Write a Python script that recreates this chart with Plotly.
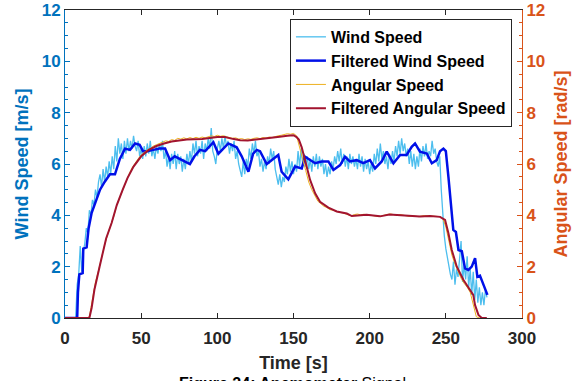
import plotly.graph_objects as go

# ---------------- data ----------------
wind_time = list(range(0, 278))
wind_speed = [
    0, 0, 0, 0, 0, 0, 0, 0, 1.3, 1.7,
    2.8, 1.8, 2.6, 2.9, 3.5, 3.3, 4.2, 4.0, 4.6, 4.4,
    5.0, 4.7, 5.3, 5.6, 5.1, 5.8, 5.3, 5.9, 5.5, 6.1,
    5.6, 6.3, 5.8, 6.7, 6.1, 7.0, 6.4, 6.8, 6.2, 6.9,
    6.4, 7.0, 6.5, 6.9, 6.6, 7.1, 6.7, 6.5, 6.9, 6.3,
    6.6, 6.2, 6.7, 6.3, 6.8, 6.4, 6.9, 6.3, 6.6, 6.2,
    6.7, 6.4, 6.8, 6.5, 6.9, 6.2, 6.5, 5.9, 6.3, 5.8,
    6.4, 6.0, 6.5, 5.8, 6.4, 6.0, 6.3, 5.7, 6.2, 5.8,
    6.4, 6.0, 6.5, 6.1, 6.8, 6.4, 6.9, 6.3, 6.7, 6.4,
    6.9, 6.2, 6.8, 6.5, 7.0, 6.6, 7.4, 6.5, 6.3, 6.0,
    6.6, 6.9, 6.5, 7.0, 6.6, 7.1, 6.7, 6.9, 6.4, 6.8,
    6.5, 6.9, 6.2, 6.5, 6.0, 5.8, 5.5, 6.1, 5.6, 6.2,
    5.9, 6.6, 6.2, 6.8, 6.4, 6.9, 6.3, 6.5, 5.9, 6.2,
    5.7, 6.1, 5.8, 6.3, 6.0, 6.6, 6.2, 6.5, 5.8, 5.5,
    5.2, 5.6, 5.1, 5.5, 5.3, 5.9, 5.6, 6.2, 5.7, 6.1,
    5.6, 6.0, 5.7, 6.5, 5.9, 6.6, 6.0, 6.4, 5.9, 6.3,
    5.8, 6.2, 5.7, 6.3, 5.9, 6.4, 5.8, 6.3, 5.9, 6.2,
    5.6, 6.0, 5.5, 5.9, 5.6, 6.1, 5.8, 6.3, 6.0, 6.5,
    6.1, 6.6, 6.0, 6.4, 5.9, 6.3, 5.8, 6.4, 6.0, 6.3,
    5.9, 6.2, 5.8, 6.4, 5.9, 6.3, 5.7, 6.2, 5.8, 6.1,
    5.6, 6.0, 5.7, 6.4, 6.0, 6.6, 6.1, 6.8, 6.2, 6.5,
    6.0, 6.3, 5.8, 6.4, 6.0, 6.5, 6.1, 6.7, 6.3, 6.9,
    6.4, 7.0, 6.5, 6.8, 6.3, 6.6, 6.0, 6.5, 5.9, 6.4,
    5.8, 6.3, 5.9, 6.6, 6.1, 6.7, 6.3, 6.8, 6.2, 6.5,
    6.3, 6.9, 6.4, 6.6, 6.1, 5.9, 6.3, 5.0, 3.9, 3.2,
    2.7, 2.3, 2.0, 1.7, 1.5, 2.2, 1.3, 1.9, 1.6, 2.3,
    3.0, 1.4, 2.1, 1.5, 2.4, 1.2, 1.9, 0.9, 1.8, 0.7,
    1.5, 0.6, 1.2, 0.5, 1.0, 0.5, 1.1, 0.8,
]

filt_wind_time = [
    0, 8, 8.5, 9.4, 11.6, 12, 14.2, 15.5, 17.5, 20, 23, 26, 29.5, 32.8, 36,
    39.4, 42.7, 46, 49, 51.2, 54, 58, 62, 65.7, 69, 72, 75.5, 79, 82, 85,
    88.6, 92, 97.4, 100.7, 104, 107.2, 112.7, 116, 120.4, 123.5, 125.9, 128,
    132.4, 135.7, 140, 142.2, 146.6, 151, 155.4, 157.6, 160.8, 164.2, 168.5,
    172.9, 176.2, 180.6, 183.8, 187, 191.5, 195.8, 200.2, 203.5, 207.9, 211.2,
    215.6, 220, 224.3, 227.6, 229.8, 233, 237.5, 240.8, 244, 246.2, 248.4,
    250, 251.7, 253.9, 254.9, 256.6, 258.3, 260.5, 262.6, 264.8, 267, 269.2,
    270.7, 272.4, 274.6, 277.3,
]
filt_wind_speed = [
    0, 0, 1.0, 1.7, 1.75, 2.7, 2.75, 3.5, 4.1, 4.5, 5.0, 5.3, 5.6, 5.6, 6.2,
    6.6, 6.55, 6.8, 6.75, 6.5, 6.5, 6.55, 6.6, 6.6, 6.15, 6.3, 6.2, 6.1, 6.0, 6.3,
    6.55, 6.5, 6.85, 6.4, 6.6, 6.8, 6.65, 6.3, 5.7, 6.4, 6.55, 6.5,
    6.0, 6.15, 6.35, 5.7, 5.4, 5.9, 5.83, 6.28, 6.15, 6.03, 6.1,
    6.1, 5.77, 5.96, 6.28, 6.1, 6.15, 6.03, 6.15, 5.83, 6.1, 6.48,
    6.03, 6.35, 6.35, 6.67, 6.8, 6.48, 6.41, 6.03, 6.15, 6.5, 6.6,
    6.5, 5.5, 4.2, 3.43, 3.35, 2.65, 2.6, 1.93, 1.87, 2.0, 2.33,
    1.6, 1.65, 1.28, 0.9,
]

ang_time = list(range(0, 277, 2))
ang_speed = [
    0, 0, 0, 0, 0, 0, 0, 0,
    0.05, 0.75, 1.4, 1.85, 2.4, 2.85, 3.25, 3.6, 3.95, 4.4,
    4.7, 5.05, 5.35, 5.6, 5.85, 6.05, 6.2, 6.35, 6.45, 6.55,
    6.6, 6.7, 6.75, 6.8, 6.85, 6.9, 6.88, 6.95, 6.92, 7.0,
    6.97, 7.02, 6.98, 7.03, 6.99, 7.04, 7.0, 7.05, 7.02, 7.06,
    7.1, 7.07, 7.12, 7.08, 7.1, 7.06, 7.04, 7.0, 7.02, 6.97,
    6.99, 6.95, 6.98, 6.96, 7.0, 7.02, 6.99, 7.03, 7.01, 7.05,
    7.03, 7.08, 7.1, 7.12, 7.15, 7.18, 7.16, 7.19, 7.1, 6.7,
    6.2, 5.75, 5.3, 5.0, 4.75, 4.55, 4.45, 4.35, 4.3, 4.22,
    4.2, 4.15, 4.12, 4.1, 4.06, 4.02, 3.98, 4.03, 4.05, 4.02,
    4.04, 4.03, 4.01, 3.99, 3.97, 3.95, 3.98, 4.02, 4.04, 4.05,
    4.02, 4.0, 4.03, 4.0, 3.97, 3.96, 3.98, 3.96, 3.95, 3.97,
    3.99, 3.98, 3.97, 3.96, 3.97, 3.95, 3.88, 3.55, 3.0, 2.45,
    2.1, 1.8, 1.55, 1.35, 1.2, 1.0, 0.55, 0.05, 0, 0,
    0,
]

filt_ang_time = [
    0, 16, 17.5, 19.3, 22.7, 24.1, 27, 30.6, 34, 37.9, 41, 45, 50, 55, 60, 65,
    70, 80, 90, 100, 105, 110, 115, 120, 128, 135, 141, 146, 150, 152, 153.5,
    155.4, 157.6, 160.9, 164.2, 167.4, 172.9, 178.4, 185, 188.3, 198, 206.8,
    213, 224.3, 233, 239.6, 246.2, 249.5, 251.7, 253.9, 257.2, 261.6, 266,
    268, 269.2, 271.4, 273.6, 276.9,
]
filt_ang_speed = [
    0, 0, 0.4, 1.1, 2.0, 2.4, 3.1, 3.7, 4.4, 5.0, 5.45, 5.9, 6.3, 6.55, 6.7, 6.8,
    6.88, 6.95, 6.97, 7.05, 7.05, 6.98, 6.93, 6.92, 6.97, 7.0, 7.06, 7.1, 7.12, 7.05, 6.95,
    6.65, 6.15, 5.38, 4.86, 4.53, 4.3, 4.15, 4.07, 3.97, 4.02, 3.96,
    4.03, 3.97, 3.95, 3.97, 3.94, 3.82, 3.3, 2.65, 2.0, 1.48, 1.09,
    0.9, 0.5, 0.12, 0, 0,
]

x_ticks = [0, 50, 100, 150, 200, 250, 300]
y_ticks = [0, 2, 4, 6, 8, 10, 12]

series_names = ["Wind Speed", "Filtered Wind Speed", "Angular Speed", "Filtered Angular Speed"]
axis_titles = {"x": "Time [s]", "y": "Wind Speed [m/s]", "y2": "Angular Speed [rad/s]"}
caption = "<b>Figure 24: Anemometer</b> Signal"

# ---------------- styling ----------------
FONT = "Liberation Sans, Arial, sans-serif"
BLUE_AX = "#0072BD"
ORANGE_AX = "#D95319"
DARK = "#262626"

fig = go.Figure()
fig.add_trace(go.Scatter(x=wind_time, y=wind_speed, mode="lines", name=series_names[0],
                         line=dict(color="#4DBEEE", width=1.3), yaxis="y"))
fig.add_trace(go.Scatter(x=filt_wind_time, y=filt_wind_speed, mode="lines", name=series_names[1],
                         line=dict(color="#0010E8", width=2.5), yaxis="y"))
fig.add_trace(go.Scatter(x=ang_time, y=ang_speed, mode="lines", name=series_names[2],
                         line=dict(color="#EDB120", width=1), yaxis="y2"))
fig.add_trace(go.Scatter(x=filt_ang_time, y=filt_ang_speed, mode="lines", name=series_names[3],
                         line=dict(color="#A2142F", width=2), yaxis="y2"))

fig.update_layout(
    width=584, height=381,
    margin=dict(l=65, r=62, t=10, b=63),
    paper_bgcolor="white", plot_bgcolor="white",
    font=dict(family=FONT, size=16, color=DARK),
    showlegend=True,
    legend=dict(x=0.978, xanchor="right", y=0.971, yanchor="top",
                bgcolor="white", bordercolor=DARK, borderwidth=1,
                font=dict(family=FONT, size=16, color="black", weight="bold"),
                itemwidth=30, tracegroupgap=0),
    xaxis=dict(range=[0, 300], tickvals=x_ticks, ticks="inside", ticklen=5,
               tickcolor=DARK, showline=True, linecolor=DARK, linewidth=1,
               mirror="ticks", showgrid=False, zeroline=False, automargin=False,
               ticklabelstandoff=5,
               tickfont=dict(family=FONT, size=17, color=DARK, weight="bold"),
               title=dict(text=axis_titles["x"], standoff=8,
                          font=dict(family=FONT, size=18, color=DARK, weight="bold"))),
    yaxis=dict(range=[0, 12], tickvals=y_ticks, ticks="inside", ticklen=5,
               tickcolor=BLUE_AX, showline=True, linecolor=BLUE_AX, linewidth=1,
               showgrid=False, zeroline=False, automargin=False,
               minor=dict(ticks="inside", ticklen=3, dtick=0.5, tickcolor=BLUE_AX, showgrid=False),
               tickfont=dict(family=FONT, size=17, color=BLUE_AX, weight="bold"),
               title=dict(text=axis_titles["y"], standoff=8,
                          font=dict(family=FONT, size=18, color=BLUE_AX, weight="bold"))),
    yaxis2=dict(range=[0, 12], tickvals=y_ticks, ticks="inside", ticklen=5,
                overlaying="y", side="right", anchor="x", automargin=False,
                tickcolor=ORANGE_AX, showline=True, linecolor=ORANGE_AX, linewidth=1,
                showgrid=False, zeroline=False,
                minor=dict(ticks="inside", ticklen=3, dtick=0.5, tickcolor=ORANGE_AX, showgrid=False),
                tickfont=dict(family=FONT, size=17, color=ORANGE_AX, weight="bold"),
                title=dict(text=axis_titles["y2"], standoff=10,
                           font=dict(family=FONT, size=18, color=ORANGE_AX, weight="bold"))),
    annotations=[dict(text=caption, xref="paper", yref="paper", x=0.497, y=-0.178,
                      xanchor="center", yanchor="top", showarrow=False,
                      font=dict(family=FONT, size=16, color="black"))],
)

fig.write_html("out.html")
